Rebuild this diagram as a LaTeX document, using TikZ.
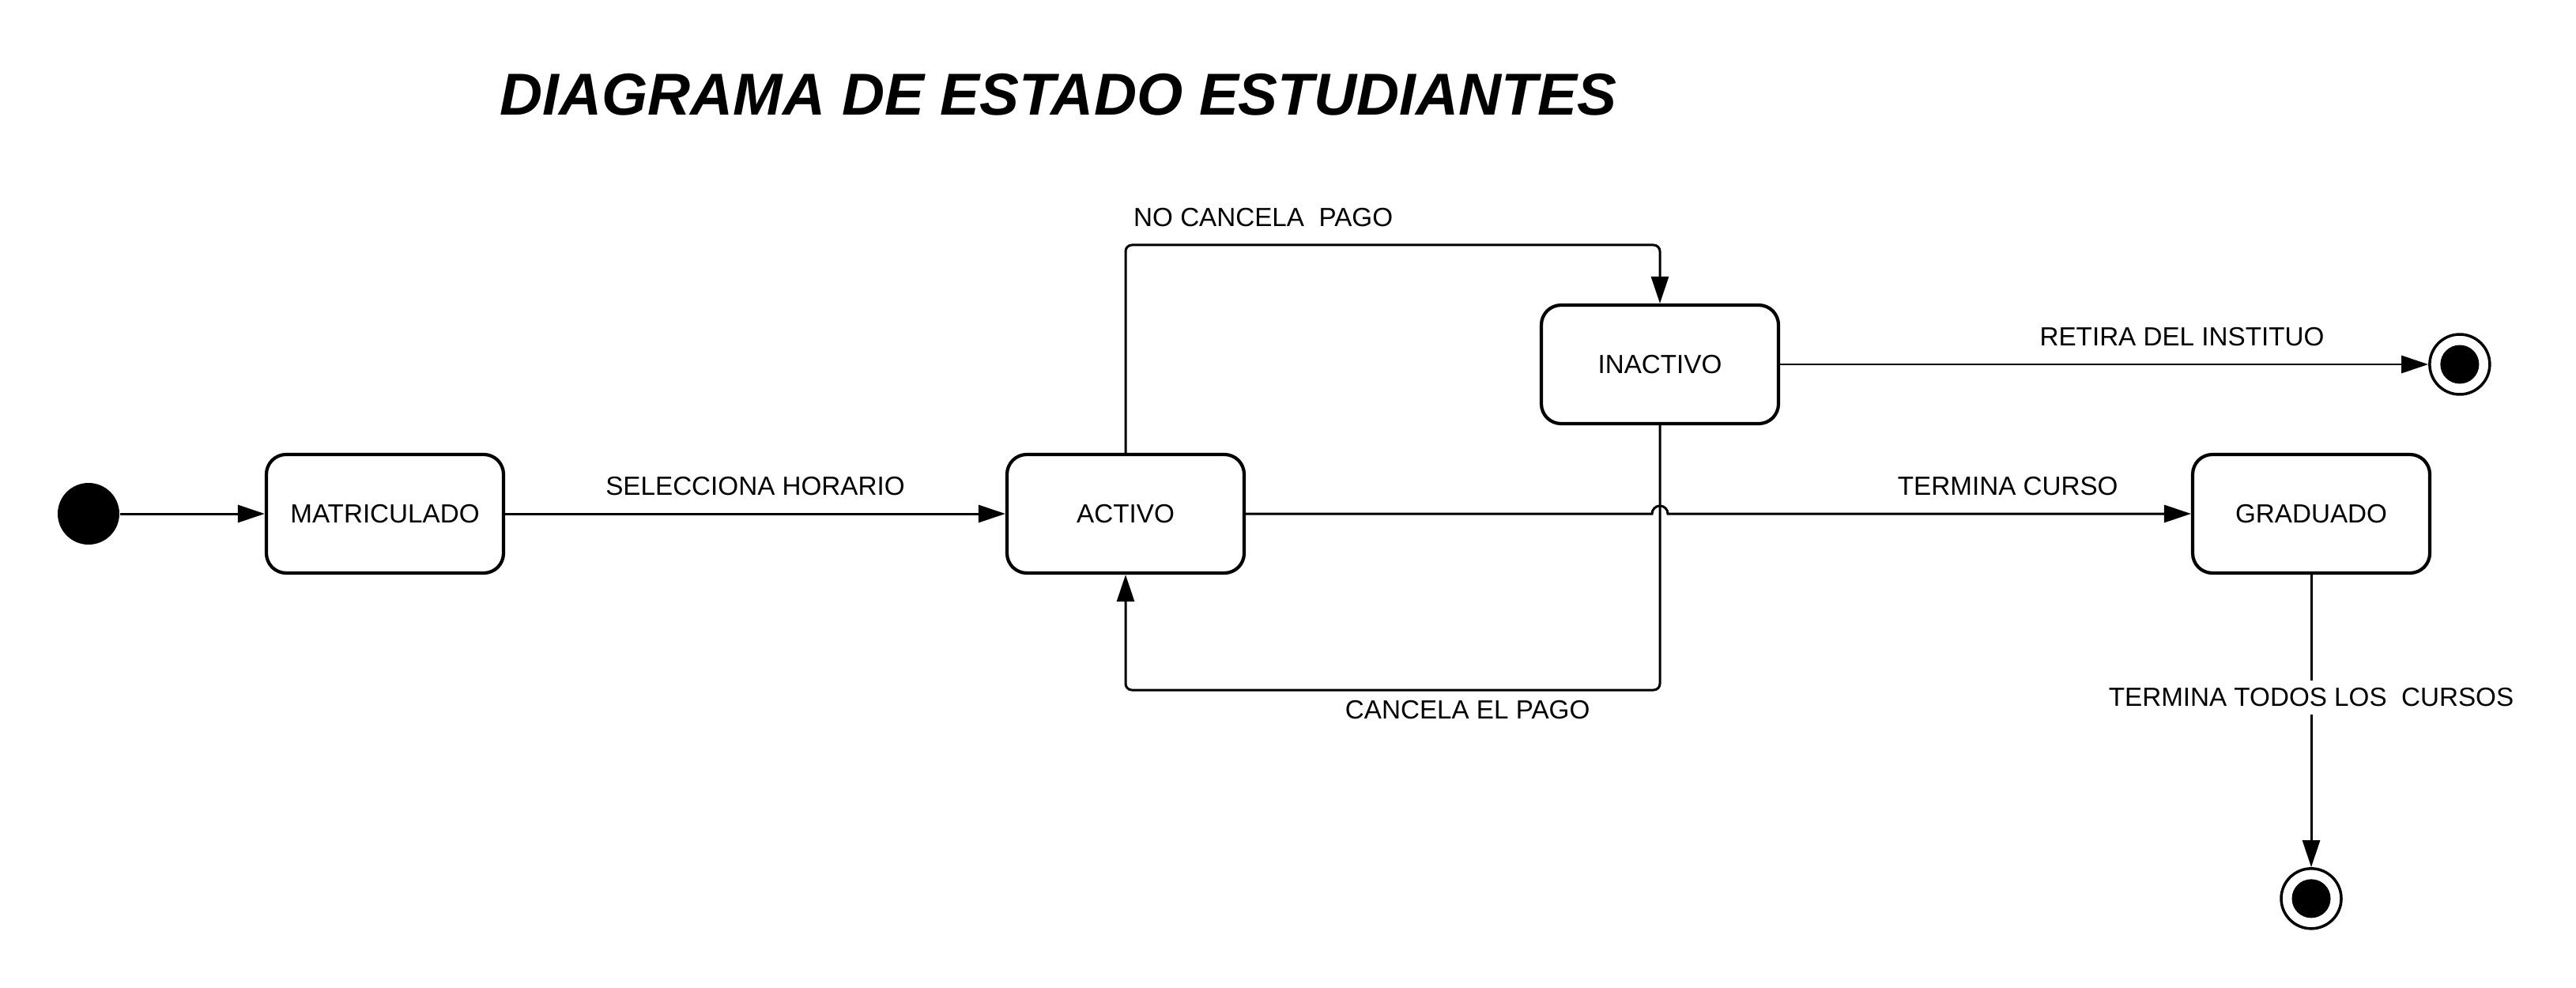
\documentclass[tikz,border=0pt]{standalone}
\usepackage{fontspec}
\setmainfont{Liberation Sans}
\usetikzlibrary{arrows.meta,positioning}

\begin{document}
\begin{tikzpicture}[>={Triangle[length=0.34cm,width=0.22cm]},
  every node/.style={font=\fontsize{9.45}{11}\selectfont},
  state/.style={draw,rounded corners=0.25cm,line width=0.042cm,minimum width=3.0cm,minimum height=1.5cm},
  startdot/.style={circle,fill=black,minimum size=0.78cm,inner sep=0pt},
  enddot/.style={circle,draw,line width=0.035cm,minimum size=0.76cm,inner sep=0pt,
    path picture={\fill (path picture bounding box.center) circle (0.245cm);}},
  trans/.style={->,line width=0.03cm}]
\useasboundingbox (0,0) rectangle (32.59,12.49);
\node[font=\fontsize{21.3}{25}\selectfont\bfseries\itshape] (title) at (13.39,11.29) {DIAGRAMA DE ESTADO ESTUDIANTES};
\node[startdot] (ini) at (1.12,5.99) {};
\node[state] (mat) at (4.87,5.99) {MATRICULADO};
\node[state] (act) at (14.24,5.99) {ACTIVO};
\node[state] (inac) at (21.00,7.88) {INACTIVO};
\node[state] (grad) at (29.24,5.99) {GRADUADO};
\node[enddot,right=8.2cm of inac] (fin1) {};
\node[enddot,below=3.7cm of grad] (fin2) {};
\draw[trans] (ini) -- (mat);
\draw[trans] (mat) -- node[above=0.1cm] {SELECCIONA HORARIO} (act);
\draw[trans] (act.east) -- (20.90,5.99) arc[start angle=180,end angle=0,radius=0.10]
  -- node[pos=0.65,above=0.1cm] {TERMINA CURSO} (grad.west);
\draw[trans,rounded corners=0.08cm] (act.north) -- (14.24,9.39)
  node[above right,yshift=0.1cm,xshift=-0.03cm] {NO CANCELA\ \ PAGO} -| (inac.north);
\draw[trans,rounded corners=0.08cm] (inac.south) -- (21.00,3.76)
  -- node[pos=0.36,below] {CANCELA EL PAGO} (14.24,3.76) -- (act.south);
\draw[trans] (inac) -- node[pos=0.62,above=0.1cm] {RETIRA DEL INSTITUO} (fin1);
\draw[trans] (grad) -- node[pos=0.42,fill=white,inner sep=0.1cm] {TERMINA TODOS LOS\ \ CURSOS} (fin2);
\end{tikzpicture}
\end{document}
